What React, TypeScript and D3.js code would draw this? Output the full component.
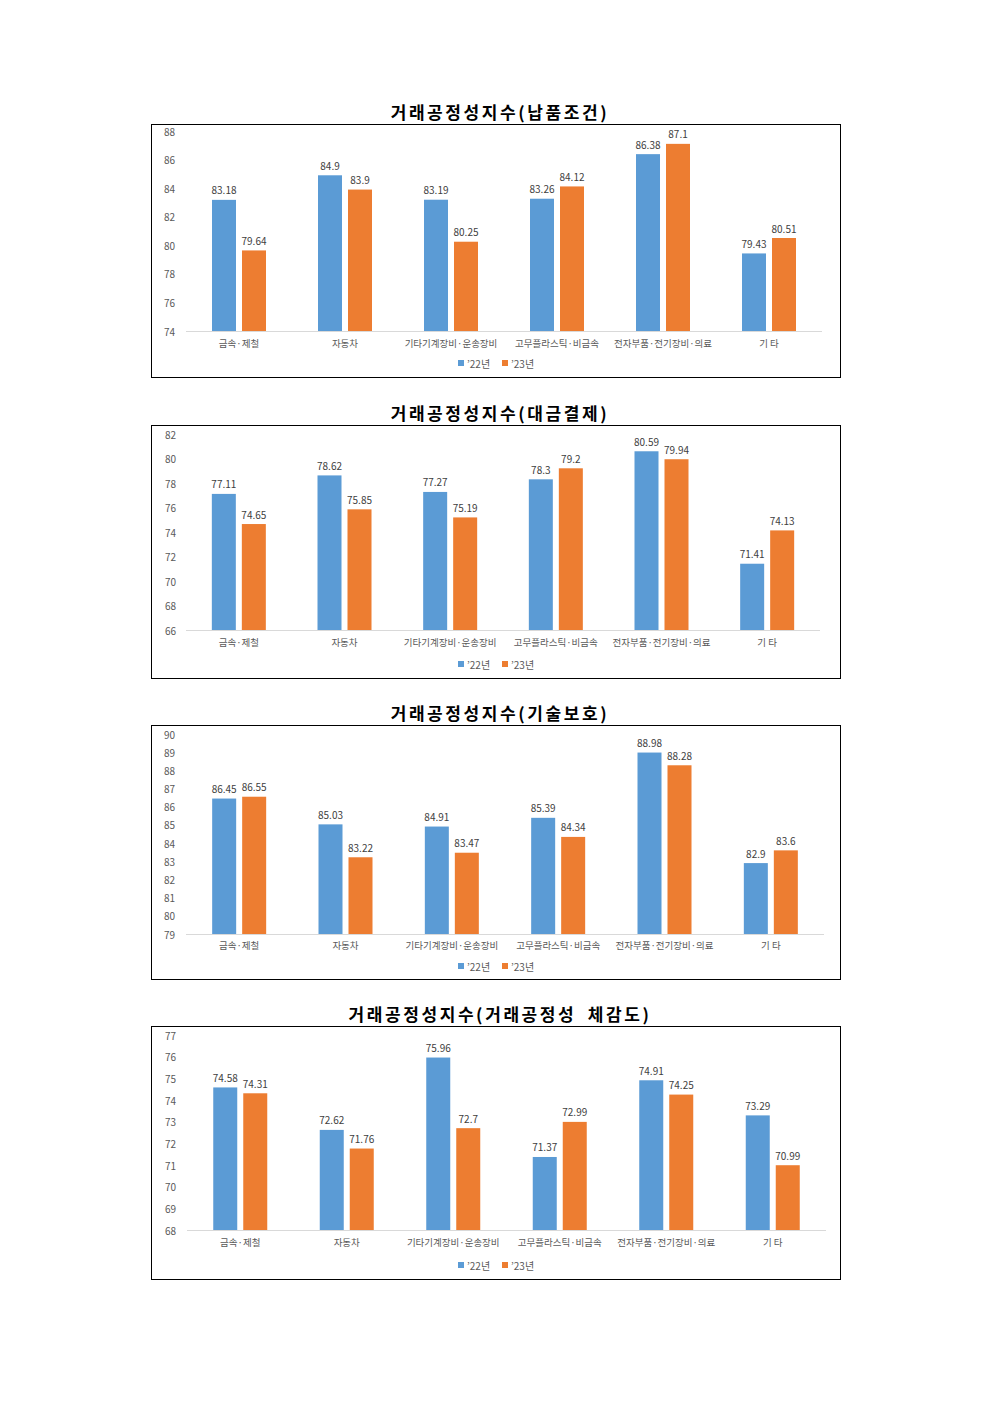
import React, { useEffect, useRef } from 'react';
import * as d3 from 'd3';

// categories and series
const categories = ['금속·제철', '자동차', '기타기계장비·운송장비', '고무플라스틱·비금속', '전자부품·전기장비·의료', '기 타'];
const seriesNames = ['’22년', '’23년'];
const colors = ['#5b9bd5', '#ed7d31'];

const titles = [
  '거래공정성지수(납품조건)',
  '거래공정성지수(대금결제)',
  '거래공정성지수(기술보호)',
  '거래공정성지수(거래공정성 체감도)',
];

const delivery22 = [83.18, 84.9, 83.19, 83.26, 86.38, 79.43];
const delivery23 = [79.64, 83.9, 80.25, 84.12, 87.1, 80.51];
const payment22 = [77.11, 78.62, 77.27, 78.3, 80.59, 71.41];
const payment23 = [74.65, 75.85, 75.19, 79.2, 79.94, 74.13];
const tech22 = [86.45, 85.03, 84.91, 85.39, 88.98, 82.9];
const tech23 = [86.55, 83.22, 83.47, 84.34, 88.28, 83.6];
const fair22 = [74.58, 72.62, 75.96, 71.37, 74.91, 73.29];
const fair23 = [74.31, 71.76, 72.7, 72.99, 74.25, 70.99];

const yTicks1 = [74, 76, 78, 80, 82, 84, 86, 88];
const yTicks2 = [66, 68, 70, 72, 74, 76, 78, 80, 82];
const yTicks3 = [79, 80, 81, 82, 83, 84, 85, 86, 87, 88, 89, 90];
const yTicks4 = [68, 69, 70, 71, 72, 73, 74, 75, 76, 77];

const chartData = [
  { title: titles[0], values: [delivery22, delivery23], ticks: yTicks1 },
  { title: titles[1], values: [payment22, payment23], ticks: yTicks2 },
  { title: titles[2], values: [tech22, tech23], ticks: yTicks3 },
  { title: titles[3], values: [fair22, fair23], ticks: yTicks4 },
];

// page layout per chart (pixels)
const layouts = [
  { boxTop: 124, boxBottom: 377, titleY: 111, plotTop: 131, plotBottom: 331, x0: 186, x1: 822, tickX: 175, labelY: 343, legendY: 363 },
  { boxTop: 425, boxBottom: 678, titleY: 412, plotTop: 434, plotBottom: 630, x0: 186, x1: 820, tickX: 176, labelY: 642, legendY: 664 },
  { boxTop: 725, boxBottom: 979, titleY: 712, plotTop: 734, plotBottom: 934, x0: 186, x1: 824, tickX: 175, labelY: 945, legendY: 966 },
  { boxTop: 1026, boxBottom: 1279, titleY: 1013, plotTop: 1035, plotBottom: 1230, x0: 187, x1: 826, tickX: 176, labelY: 1242, legendY: 1265 },
];

const FONT = '"Noto Sans CJK KR", "Noto Sans", sans-serif';

const App = () => {
  const ref = useRef<SVGSVGElement>(null);

  useEffect(() => {
    const svg = d3.select(ref.current);
    svg.selectAll('*').remove();
    svg.append('rect').attr('width', 992).attr('height', 1403).attr('fill', 'white');

    chartData.forEach((chart, ci) => {
      const L = layouts[ci];
      const g = svg.append('g');

      g.append('text')
        .attr('x', 500)
        .attr('y', L.titleY)
        .attr('text-anchor', 'middle')
        .attr('dominant-baseline', 'central')
        .style('font-family', FONT)
        .style('font-size', '17px')
        .style('font-weight', 'bold')
        .style('letter-spacing', '2.6px')
        .style('word-spacing', '5px')
        .style('fill', '#000')
        .text(chart.title);

      g.append('rect')
        .attr('x', 151.5)
        .attr('y', L.boxTop + 0.5)
        .attr('width', 689)
        .attr('height', L.boxBottom - L.boxTop)
        .attr('fill', 'white')
        .attr('stroke', '#000')
        .attr('stroke-width', 1);

      const ticks = chart.ticks;
      const y = d3.scaleLinear()
        .domain([ticks[0], ticks[ticks.length - 1]])
        .range([L.plotBottom, L.plotTop]);
      const x = d3.scaleBand<string>().domain(categories).range([L.x0, L.x1]);
      const bw = x.bandwidth();
      const xs = d3.scaleBand<number>()
        .domain([0, 1])
        .range([bw / 2 - 27, bw / 2 + 27])
        .paddingInner(0.2);

      g.selectAll('.ytick')
        .data(ticks)
        .enter()
        .append('text')
        .attr('x', L.tickX)
        .attr('y', d => y(d))
        .attr('text-anchor', 'end')
        .attr('dominant-baseline', 'central')
        .style('font-family', FONT)
        .style('font-size', '10px')
        .style('fill', '#595959')
        .text(d => d);

      chart.values.forEach((vals, si) => {
        g.selectAll(`.bar${si}`)
          .data(vals)
          .enter()
          .append('rect')
          .attr('x', (d, i) => (x(categories[i]) as number) + (xs(si) as number))
          .attr('y', d => y(d))
          .attr('width', xs.bandwidth())
          .attr('height', d => L.plotBottom - y(d))
          .attr('fill', colors[si]);

        g.selectAll(`.lab${si}`)
          .data(vals)
          .enter()
          .append('text')
          .attr('x', (d, i) => (x(categories[i]) as number) + (xs(si) as number) + xs.bandwidth() / 2)
          .attr('y', d => y(d) - 10)
          .attr('text-anchor', 'middle')
          .attr('dominant-baseline', 'central')
          .style('font-family', FONT)
          .style('font-size', '10px')
          .style('fill', '#404040')
          .text(d => d);
      });

      g.append('line')
        .attr('x1', L.x0)
        .attr('x2', L.x1)
        .attr('y1', L.plotBottom + 0.5)
        .attr('y2', L.plotBottom + 0.5)
        .attr('stroke', '#d9d9d9')
        .attr('stroke-width', 1);

      g.selectAll('.xlab')
        .data(categories)
        .enter()
        .append('text')
        .attr('x', d => (x(d) as number) + bw / 2)
        .attr('y', L.labelY)
        .attr('text-anchor', 'middle')
        .attr('dominant-baseline', 'central')
        .style('font-family', FONT)
        .style('font-size', '9.5px')
        .style('fill', '#595959')
        .style('white-space', 'pre')
        .text(d => d);

      // legend
      const legendX = [458, 502];
      seriesNames.forEach((name, si) => {
        g.append('rect')
          .attr('x', legendX[si])
          .attr('y', L.legendY - 3)
          .attr('width', 6)
          .attr('height', 6)
          .attr('fill', colors[si]);
        g.append('text')
          .attr('x', legendX[si] + 9)
          .attr('y', L.legendY)
          .attr('dominant-baseline', 'central')
          .style('font-family', FONT)
          .style('font-size', '10px')
          .style('fill', '#595959')
          .text(name);
      });
    });
  }, []);

  return (
    <svg
      ref={ref}
      width={992}
      height={1403}
      style={{ position: 'absolute', left: 0, top: 0 }}
    ></svg>
  );
};

export default App;
